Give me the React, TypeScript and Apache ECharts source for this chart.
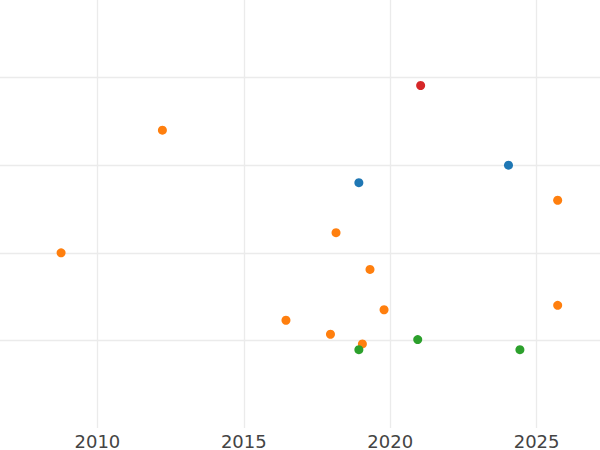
import React, { useEffect, useRef } from "react";
import * as echarts from "echarts";

const xTicks = [2010, 2015, 2020, 2025];

const blueX = [2018.93, 2024.04];
const blueY = [18.0, 20.0];

const orangeX = [2012.22, 2008.76, 2016.44, 2018.15, 2019.31, 2019.79, 2017.96, 2019.05, 2025.72, 2025.72];
const orangeY = [24.0, 10.0, 2.3, 12.3, 8.1, 3.5, 0.7, -0.4, 4.0, 16.0];

const greenX = [2018.93, 2020.94, 2024.43];
const greenY = [-1.06, 0.1, -1.06];

const redX = [2021.04];
const redY = [29.1];

const colors = ["#1f77b4", "#ff7f0e", "#2ca02c", "#d62728"];

function pairs(xs: number[], ys: number[]) {
  return xs.map((x, i) => [x, ys[i]]);
}

export default function App() {
  const ref = useRef<HTMLDivElement>(null);
  useEffect(() => {
    if (!ref.current) return;
    const chart = echarts.init(ref.current, null, { renderer: "svg" });
    const seriesData = [
      pairs(blueX, blueY),
      pairs(orangeX, orangeY),
      pairs(greenX, greenY),
      pairs(redX, redY),
    ];
    chart.setOption({
      animation: false,
      backgroundColor: "#ffffff",
      grid: { left: 0, right: 0, top: 0, bottom: 22, containLabel: false },
      xAxis: {
        type: "value",
        min: 2005,
        max: 2030,
        interval: 5,
        axisLine: { show: false },
        axisTick: { show: false },
        axisLabel: {
          color: "#444444",
          fontSize: 18,
          fontFamily: "DejaVu Sans",
          margin: 4,
          formatter: (v: number) => (xTicks.includes(v) ? String(v) : ""),
        },
        splitLine: { show: true, showMinLine: false, showMaxLine: false, lineStyle: { color: "#ebebeb", width: 1.3 } },
      },
      yAxis: {
        type: "value",
        min: -10,
        max: 40,
        interval: 10,
        axisLine: { show: false },
        axisTick: { show: false },
        axisLabel: { show: false },
        splitLine: { show: true, showMinLine: false, showMaxLine: false, lineStyle: { color: "#ebebeb", width: 1.3 } },
      },
      series: seriesData.map((d, i) => ({
        type: "scatter",
        data: d,
        symbol: "circle",
        symbolSize: 9,
        itemStyle: { color: colors[i], opacity: 1 },
        z: 2 + i,
      })),
    });
    return () => chart.dispose();
  }, []);
  return (
    <div
      ref={ref}
      style={{ position: "fixed", left: -52, top: -10, width: 738, height: 460 }}
    />
  );
}
